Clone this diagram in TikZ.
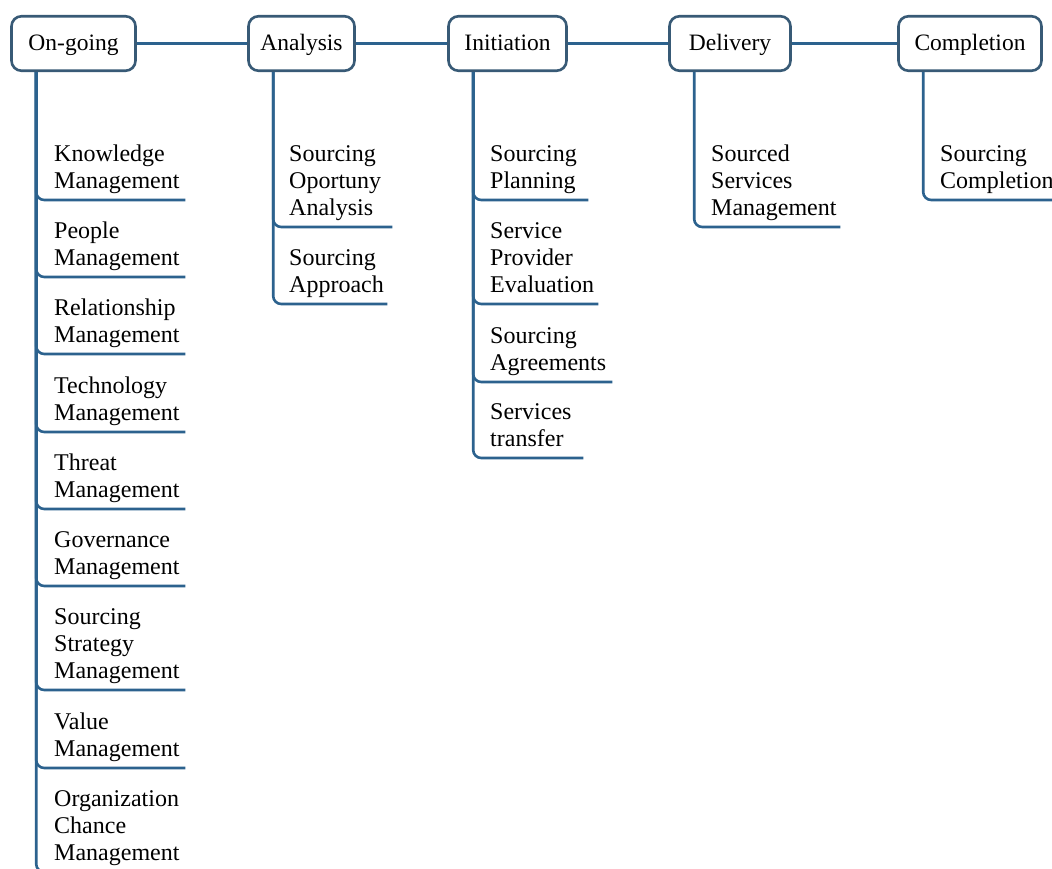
\documentclass[tikz,border=0pt]{standalone}
\usepackage{fontspec}
\setmainfont{Liberation Serif}
\definecolor{linkc}{RGB}{44,98,142}
\definecolor{boxc}{RGB}{56,90,118}
\begin{document}
\begin{tikzpicture}[x=1pt,y=1pt,
  phase/.style={draw=boxc, line width=2.6pt, rounded corners=10pt, fill=white,
    minimum height=54.5pt, inner xsep=0pt, inner ysep=0pt,
    text height=16pt, text depth=1pt,
    font=\fontsize{23.5}{27}\selectfont},
  item/.style={anchor=south west, align=left, inner xsep=0pt, inner ysep=2.9pt,
    font=\fontsize{24}{27}\selectfont, execute at end node={\strut}},
  link/.style={draw=linkc, line width=2.6pt},
  branch/.style={link, rounded corners=8pt}]
\useasboundingbox (0,0) rectangle (1052,-869);
\clip (0,0) rectangle (1052,-869);
\fill[white] (0,0) rectangle (1052,-869);

% phase boxes along the top
\node[phase, minimum width=124pt] (ongoing)    at (73.5,-43.5)  {On-going};
\node[phase, minimum width=106pt] (analysis)   at (301.5,-43.5) {Analysis};
\node[phase, minimum width=118pt] (initiation) at (507.5,-43.5) {Initiation};
\node[phase, minimum width=121pt] (delivery)   at (730,-43.5)   {Delivery};
\node[phase, minimum width=143pt] (completion) at (970,-43.5)   {Completion};

% activities under On-going
\node[item, text width=131pt] (o1) at (54,-200) {Knowledge\\Management};
\node[item, text width=131pt] (o2) at (54,-277) {People\\Management};
\node[item, text width=131pt] (o3) at (54,-354) {Relationship\\Management};
\node[item, text width=131pt] (o4) at (54,-432) {Technology\\Management};
\node[item, text width=131pt] (o5) at (54,-509) {Threat\\Management};
\node[item, text width=131pt] (o6) at (54,-586) {Governance\\Management};
\node[item, text width=131pt] (o7) at (54,-690) {Sourcing\\Strategy\\Management};
\node[item, text width=131pt] (o8) at (54,-768) {Value\\Management};
\node[item, text width=131pt] (o9) at (54,-872) {Organization\\Chance\\Management};

% activities under Analysis
\node[item, text width=103pt] (a1) at (289,-227) {Sourcing\\Oportuny\\Analysis};
\node[item, text width=98pt]  (a2) at (289,-304) {Sourcing\\Approach};

% activities under Initiation
\node[item, text width=98pt]  (i1) at (490,-200) {Sourcing\\Planning};
\node[item, text width=108pt] (i2) at (490,-304) {Service\\Provider\\Evaluation};
\node[item, text width=122pt] (i3) at (490,-382) {Sourcing\\Agreements};
\node[item, text width=93pt]  (i4) at (490,-458) {Services\\transfer};

% activities under Delivery
\node[item, text width=129pt] (d1) at (711,-227) {Sourced\\Services\\Management};

% activities under Completion
\node[item, text width=130pt] (c1) at (940,-200) {Sourcing\\Completion};

% connectors between phases
\draw[link] (ongoing) -- (analysis);
\draw[link] (analysis) -- (initiation);
\draw[link] (initiation) -- (delivery);
\draw[link] (delivery) -- (completion);

% branches from each phase to its activities
\foreach \c in {o1,o2,o3,o4,o5,o6,o7,o8,o9}
  \draw[branch] ([xshift=26pt]ongoing.south west) |- (\c.south east);
\foreach \c in {a1,a2}
  \draw[branch] ([xshift=26pt]analysis.south west) |- (\c.south east);
\foreach \c in {i1,i2,i3,i4}
  \draw[branch] ([xshift=26pt]initiation.south west) |- (\c.south east);
\draw[branch] ([xshift=26pt]delivery.south west) |- (d1.south east);
\draw[branch] ([xshift=26pt]completion.south west) |- (c1.south east);
\end{tikzpicture}
\end{document}
